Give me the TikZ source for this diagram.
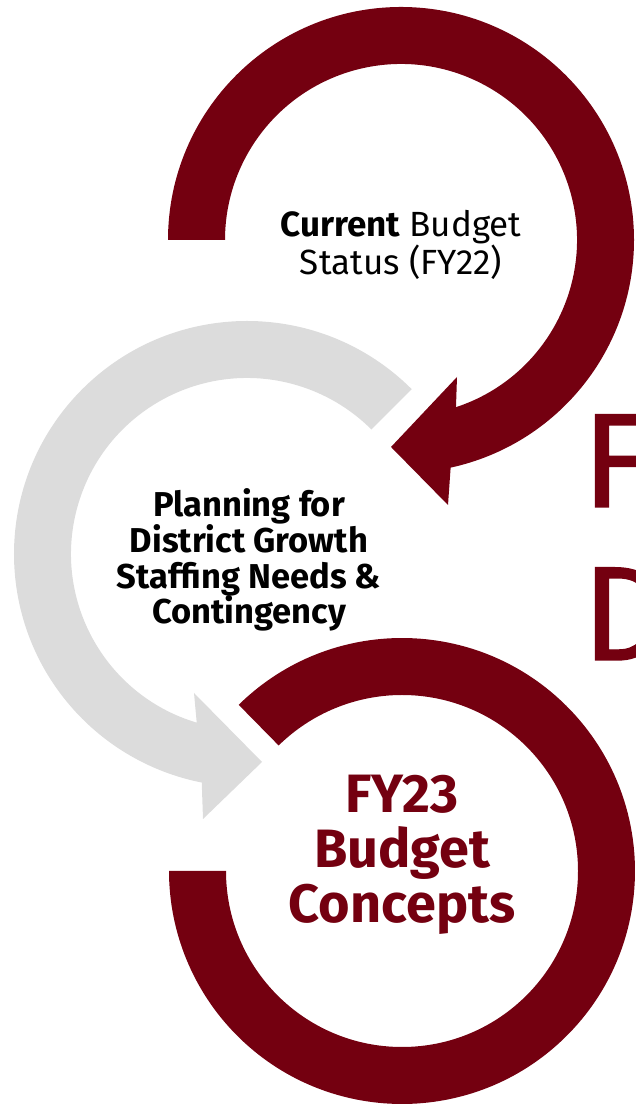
\documentclass[tikz,border=0pt]{standalone}
\usepackage{fontspec}
\setmainfont{Fira Sans}
\newfontfamily\heavyfont{Fira Sans}[FakeBold=1]
\usetikzlibrary{calc}
\definecolor{maroon}{RGB}{116,0,16}
\definecolor{ringgray}{RGB}{220,220,220}
\begin{document}
\begin{tikzpicture}[x=1pt,y=1pt,
  redring/.style={fill=maroon},
  grayring/.style={fill=ringgray},
  lbl/.style={align=center,inner sep=0pt,text=black},
  biglbl/.style={anchor=base west,inner sep=0pt,text=maroon,font=\heavyfont\fontsize{134}{134}\selectfont}]
\useasboundingbox (0,0) rectangle (636,1108);
\clip (0,0) rectangle (636,1108);
\coordinate (c1) at (401,868);
\coordinate (c2) at (247,554);
\coordinate (c3) at (402,237);
% top arrow
\fill[redring] ($(c1)+(180:233pt)$) arc[start angle=180,end angle=-77.7,radius=233pt]
  -- (448,603) -- (391,661) -- (457,731)
  -- ($(c1)+(-71.8:176pt)$) arc[start angle=-71.8,end angle=180,radius=176pt] -- cycle;
% gray arrow
\fill[grayring] ($(c2)+(45:233pt)$) arc[start angle=45,end angle=258.8,radius=233pt]
  -- (203,289) -- (262,346) -- (194,415)
  -- ($(c2)+(253.4:176pt)$) arc[start angle=253.4,end angle=45,radius=176pt] -- cycle;
% bottom ring
\fill[redring] ($(c3)+(134.5:233pt)$) arc[start angle=134.5,end angle=-180,radius=233pt]
  -- ($(c3)+(180:176pt)$) arc[start angle=-180,end angle=134.5,radius=176pt] -- cycle;
% labels
\node[lbl,font=\fontsize{35}{37}\selectfont] (status) at (401,863) {\textbf{Current} Budget\\Status (FY22)};
\node[lbl,font=\bfseries\fontsize{34.5}{35.7}\selectfont] (plan) at (249,548) {Planning for\\District Growth\\Staffing Needs \&\\Contingency};
\node[lbl,text=maroon,font=\bfseries\fontsize{54}{55}\selectfont] (fy23) at (402,253) {FY23\\Budget\\Concepts};
\node[biglbl] (bigF) at (582,601) {F};
\node[biglbl] (bigD) at (582,448) {D};
\end{tikzpicture}
\end{document}
